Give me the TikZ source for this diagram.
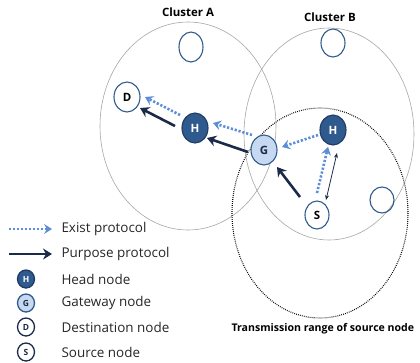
\documentclass[tikz,border=0pt]{standalone}
\usepackage{fontspec}
\setmainfont{Open Sans}
\usetikzlibrary{shapes.geometric,arrows.meta,calc}
\definecolor{navy}{HTML}{1B2A48}
\definecolor{headfill}{HTML}{2F5A8E}
\definecolor{headline}{HTML}{1F3A66}
\definecolor{gwfill}{HTML}{C6D9F1}
\definecolor{nodeline}{HTML}{2E5A8C}
\definecolor{exblue}{HTML}{5B8ED6}
\definecolor{clgray}{HTML}{A6A6A6}
\tikzset{
  nd/.style={ellipse,inner sep=0pt,minimum width=26bp,minimum height=30bp,line width=1.1pt,font=\fontsize{11.5}{12}\selectfont\bfseries},
  head/.style={nd,draw=headline,fill=headfill,text=white},
  gw/.style={nd,draw=nodeline,fill=gwfill,text=navy},
  plain/.style={nd,draw=nodeline,fill=white,text=black},
  empty/.style={ellipse,inner sep=0pt,minimum width=24bp,minimum height=30bp,line width=1.1pt,draw=nodeline},
  lnd/.style={ellipse,inner sep=0pt,minimum width=17bp,minimum height=18bp,line width=1.3pt,font=\fontsize{8.5}{9}\selectfont\bfseries},
  exist/.style={draw=exblue,line width=2.6pt,dash pattern=on 2.2pt off 1.8pt,-{Stealth[length=8bp,width=10bp,inset=3bp,fill=exblue]}},
  purpose/.style={draw=navy,line width=2.6pt,-{Stealth[length=9bp,width=11bp,inset=3bp]}},
  thin/.style={draw=navy,line width=0.8pt,{Stealth[length=5bp,width=4bp]}-{Stealth[length=5bp,width=4bp]}},
  cluster/.style={draw=clgray,line width=0.6pt},
  lbl/.style={font=\fontsize{11.5}{13}\selectfont\bfseries},
  leg/.style={anchor=west,font=\fontsize{13.5}{15}\selectfont,text=black!85}
}
\begin{document}
\begin{tikzpicture}[x=1bp,y=-1bp]
\useasboundingbox (0,0) rectangle (420,363);
% clusters
\draw[cluster] (188,126) ellipse [x radius=88, y radius=104];
\draw[cluster] (329,134) ellipse [x radius=85, y radius=106];
\draw[black,line width=1.1pt,dash pattern=on 0.8pt off 1.2pt] (320,213) ellipse [x radius=88, y radius=105];
\node[lbl] (clA) at (188,12) {Cluster A};
\node[lbl] (clB) at (330,17) {Cluster B};
\node[font=\fontsize{10.6}{12}\selectfont\bfseries,anchor=west] (tr) at (228,329) {Transmission range of source node};
% nodes
\node[empty] (e1) at (191,47) {};
\node[empty,minimum height=28bp] (e2) at (333,43) {};
\node[empty,minimum height=26bp] (e3) at (382,200) {};
\node[plain] (D) at (127,97) {D};
\node[head] (HA) at (195,128) {H};
\node[gw] (G) at (264,150) {G};
\node[head] (HB) at (333,130) {H};
\node[plain,minimum width=24bp,minimum height=28bp] (S) at (317,215) {S};
% arrows
\draw[exist] ($(HA)+(-15,-13)$) -- ($(D)+(18,0)$);
\draw[purpose] ($(HA)+(-20,-2)$) -- ($(D)+(13,11)$);
\draw[exist] ($(G)+(-12,-15)$) -- ($(HA)+(18,-5)$);
\draw[purpose] ($(G)+(-16,2)$) -- ($(HA)+(12,10)$);
\draw[exist] ($(HB)+(-15,5)$) -- ($(G)+(18,-3)$);
\draw[purpose] ($(S)+(-17,-18)$) -- ($(G)+(13,17)$);
\draw[exist] ($(S)+(0,-22)$) -- ($(HB)+(-5,17)$);
\draw[thin] ($(S)+(9,-15)$) -- ($(HB)+(4,23)$);
% legend
\coordinate (l1a) at (9,229); \coordinate (l1b) at (52,229);
\coordinate (l2a) at (9,254); \coordinate (l2b) at (52,254);
\draw[exist] (l1a) -- (l1b);
\draw[purpose] (l2a) -- (l2b);
\node[leg] (t1) at (58,229) {Exist protocol};
\node[leg] (t2) at (58,254) {Purpose protocol};
\node[lnd,draw=headline,fill=headfill,text=white] (lh) at (26,279) {H};
\node[lnd,draw=nodeline,fill=gwfill,text=navy] (lg) at (26,303) {G};
\node[lnd,draw=navy,fill=white,text=navy] (ld) at (26,327) {D};
\node[lnd,draw=navy,fill=white,text=navy] (ls) at (26,352) {S};
\node[leg] (t3) at (58,279) {Head node};
\node[leg] (t4) at (58,303) {Gateway node};
\node[leg] (t5) at (58,327) {Destination node};
\node[leg] (t6) at (58,352) {Source node};
\end{tikzpicture}
\end{document}
